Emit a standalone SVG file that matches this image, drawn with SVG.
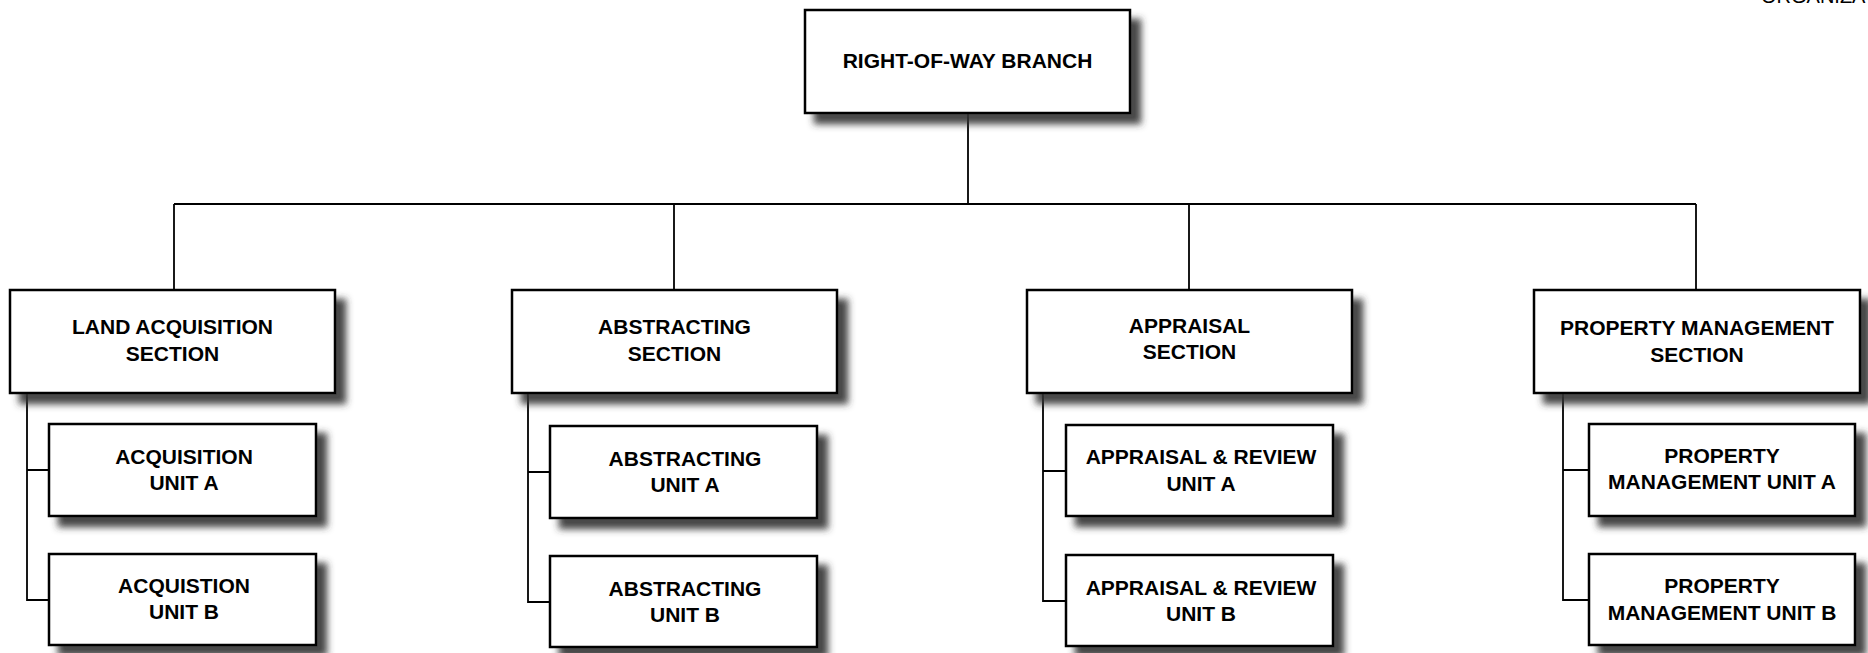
<svg xmlns="http://www.w3.org/2000/svg" width="1868" height="653" viewBox="0 0 1868 653">
  <defs>
    <filter id="shadow" x="-10%" y="-10%" width="130%" height="150%">
      <feGaussianBlur in="SourceAlpha" stdDeviation="3.5"/>
      <feOffset dx="10" dy="10" result="b"/>
      <feFlood flood-color="#333333" flood-opacity="0.9"/>
      <feComposite in2="b" operator="in"/>
      <feMerge><feMergeNode/><feMergeNode in="SourceGraphic"/></feMerge>
    </filter>
  </defs>
  <style>
    .box { fill: #ffffff; stroke: #000000; stroke-width: 2.5; filter: url(#shadow); }
    .lbl { font-family: "Liberation Sans", Arial, sans-serif; font-weight: bold; font-size: 21px; fill: #000000; text-anchor: middle; }
    .conn { stroke: #000000; stroke-width: 1.8; fill: none; }
    .title { font-family: "Liberation Sans", Arial, sans-serif; font-size: 20px; fill: #000000; }
  </style>
  <rect x="0" y="0" width="1868" height="653" fill="#ffffff"/>
  <text class="title" x="1761" y="3">ORGANIZATION CHART</text>

  <g id="connectors">
    <path class="conn" d="M968,113 V204"/>
    <path class="conn" d="M174,204 H1696"/>
    <path class="conn" d="M174,204 V290"/>
    <path class="conn" d="M674,204 V290"/>
    <path class="conn" d="M1189,204 V290"/>
    <path class="conn" d="M1696,204 V290"/>
    <path class="conn" d="M27,393 V600 H49 M27,470 H49"/>
    <path class="conn" d="M528,393 V602 H550 M528,472 H550"/>
    <path class="conn" d="M1043,393 V601 H1066 M1043,471 H1066"/>
    <path class="conn" d="M1563,393 V600 H1589 M1563,470 H1589"/>
  </g>

  <g id="branch">
    <rect class="box" x="805" y="10" width="325" height="103"/>
    <text class="lbl" x="967.5" y="68">RIGHT-OF-WAY BRANCH</text>
  </g>

  <g id="land-acquisition-section">
    <rect class="box" x="10" y="290" width="325" height="103"/>
    <text class="lbl" x="172.5" y="334">LAND ACQUISITION</text>
    <text class="lbl" x="172.5" y="361">SECTION</text>
  </g>
  <g id="acquisition-unit-a">
    <rect class="box" x="49" y="424" width="267" height="92"/>
    <text class="lbl" x="184" y="464">ACQUISITION</text>
    <text class="lbl" x="184" y="490">UNIT A</text>
  </g>
  <g id="acquisition-unit-b">
    <rect class="box" x="49" y="554" width="267" height="91"/>
    <text class="lbl" x="184" y="593">ACQUISTION</text>
    <text class="lbl" x="184" y="619">UNIT B</text>
  </g>

  <g id="abstracting-section">
    <rect class="box" x="512" y="290" width="325" height="103"/>
    <text class="lbl" x="674.5" y="334">ABSTRACTING</text>
    <text class="lbl" x="674.5" y="361">SECTION</text>
  </g>
  <g id="abstracting-unit-a">
    <rect class="box" x="550" y="426" width="267" height="92"/>
    <text class="lbl" x="685" y="466">ABSTRACTING</text>
    <text class="lbl" x="685" y="492">UNIT A</text>
  </g>
  <g id="abstracting-unit-b">
    <rect class="box" x="550" y="556" width="267" height="91"/>
    <text class="lbl" x="685" y="596">ABSTRACTING</text>
    <text class="lbl" x="685" y="622">UNIT B</text>
  </g>

  <g id="appraisal-section">
    <rect class="box" x="1027" y="290" width="325" height="103"/>
    <text class="lbl" x="1189.5" y="333">APPRAISAL</text>
    <text class="lbl" x="1189.5" y="359">SECTION</text>
  </g>
  <g id="appraisal-review-unit-a">
    <rect class="box" x="1066" y="425" width="267" height="91"/>
    <text class="lbl" x="1201" y="464">APPRAISAL &amp; REVIEW</text>
    <text class="lbl" x="1201" y="491">UNIT A</text>
  </g>
  <g id="appraisal-review-unit-b">
    <rect class="box" x="1066" y="555" width="267" height="91"/>
    <text class="lbl" x="1201" y="595">APPRAISAL &amp; REVIEW</text>
    <text class="lbl" x="1201" y="621">UNIT B</text>
  </g>

  <g id="property-management-section">
    <rect class="box" x="1534" y="290" width="326" height="103"/>
    <text class="lbl" x="1697" y="335">PROPERTY MANAGEMENT</text>
    <text class="lbl" x="1697" y="362">SECTION</text>
  </g>
  <g id="property-management-unit-a">
    <rect class="box" x="1589" y="424" width="266" height="92"/>
    <text class="lbl" x="1722" y="463">PROPERTY</text>
    <text class="lbl" x="1722" y="489">MANAGEMENT UNIT A</text>
  </g>
  <g id="property-management-unit-b">
    <rect class="box" x="1589" y="554" width="266" height="91"/>
    <text class="lbl" x="1722" y="593">PROPERTY</text>
    <text class="lbl" x="1722" y="620">MANAGEMENT UNIT B</text>
  </g>
</svg>
